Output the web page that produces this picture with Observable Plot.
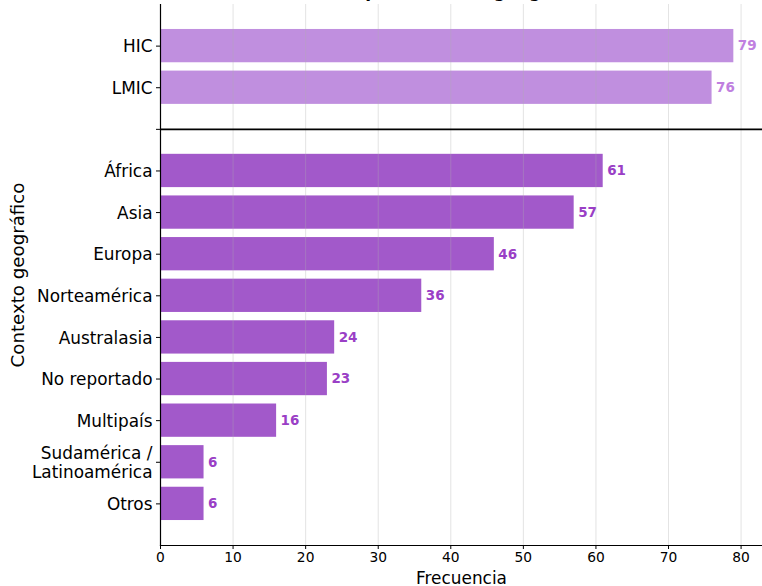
<!DOCTYPE html>
<html><head><meta charset="utf-8">
<script src="https://cdn.jsdelivr.net/npm/d3@7"></script>
<script src="https://cdn.jsdelivr.net/npm/@observablehq/plot@0.6"></script>
<style>
html,body{margin:0;padding:0;background:#fff;overflow:hidden;width:762px;height:586px;}
body{font-family:"DejaVu Sans",sans-serif;position:relative;}
#title{position:absolute;left:0;top:-19px;width:762px;text-align:center;font-weight:bold;font-size:17px;line-height:20px;color:#000;white-space:nowrap;z-index:2;}
#chart{position:absolute;left:0;top:0;}
</style></head>
<body>
<div id="chart"></div>
<div id="title">Número de estudios por contexto geográfico</div>
<script>
const incomeCategories = ["HIC", "LMIC"];
const incomeValues = [79, 76];
const regionCategories = ["África", "Asia", "Europa", "Norteamérica", "Australasia", "No reportado", "Multipaís", "Sudamérica /\nLatinoamérica", "Otros"];
const regionValues = [61, 57, 46, 36, 24, 23, 16, 6, 6];
const xTicks = [0, 10, 20, 30, 40, 50, 60, 70, 80];
const SEP = "__sep__";

const incomeColor = "#c08fdf";
const incomeLabelColor = "#c07fe0";
const regionColor = "#a259ca";
const regionLabelColor = "#9a3fc6";

const data = [
  ...incomeCategories.map((c, i) => ({cat: c, value: incomeValues[i], group: "income"})),
  ...regionCategories.map((c, i) => ({cat: c, value: regionValues[i], group: "region"}))
];
const domain = [...incomeCategories, SEP, ...regionCategories];

const chart = Plot.plot({
  width: 762,
  height: 586,
  marginLeft: 160,
  marginRight: 0,
  marginTop: 4,
  marginBottom: 41,
  style: {fontFamily: "DejaVu Sans, sans-serif", background: "transparent", color: "#000"},
  x: {domain: [0, 82.95]},
  y: {domain, paddingInner: 0.2, paddingOuter: 0.6, align: 0.5, round: false},
  marks: [
    Plot.barX(data, {x: "value", y: "cat", fill: d => d.group === "income" ? incomeColor : regionColor}),
    Plot.gridX(xTicks, {stroke: "#b0b0b0", strokeOpacity: 0.35, strokeWidth: 1}),
    Plot.text(data, {x: "value", y: "cat", text: d => String(d.value), textAnchor: "start", dx: 4,
      fill: d => d.group === "income" ? incomeLabelColor : regionLabelColor, fontWeight: "bold", fontSize: 13.5}),
    Plot.ruleY([SEP], {stroke: "#000", strokeWidth: 1.6}),
    Plot.axisY({tickSize: 4, tickPadding: 4, fontSize: 16.9, lineHeight: 1.15, label: null, stroke: "#000",
      tickFormat: d => d === SEP ? "" : d}),
    Plot.axisX({ticks: xTicks, tickSize: 4, tickPadding: 3, fontSize: 13.8, label: null, stroke: "#000"}),
    Plot.frame({anchor: "left", stroke: "#000", strokeWidth: 1.2}),
    Plot.frame({anchor: "bottom", stroke: "#000", strokeWidth: 1.2}),
    Plot.text(["Frecuencia"], {frameAnchor: "bottom", dy: 38, fontSize: 16.9, fill: "#000"}),
    Plot.text(["Contexto geográfico"], {frameAnchor: "left", textAnchor: "middle", dx: -142, rotate: -90, fontSize: 18.2, fill: "#000"})
  ]
});
document.getElementById("chart").appendChild(chart);
</script>
</body></html>
